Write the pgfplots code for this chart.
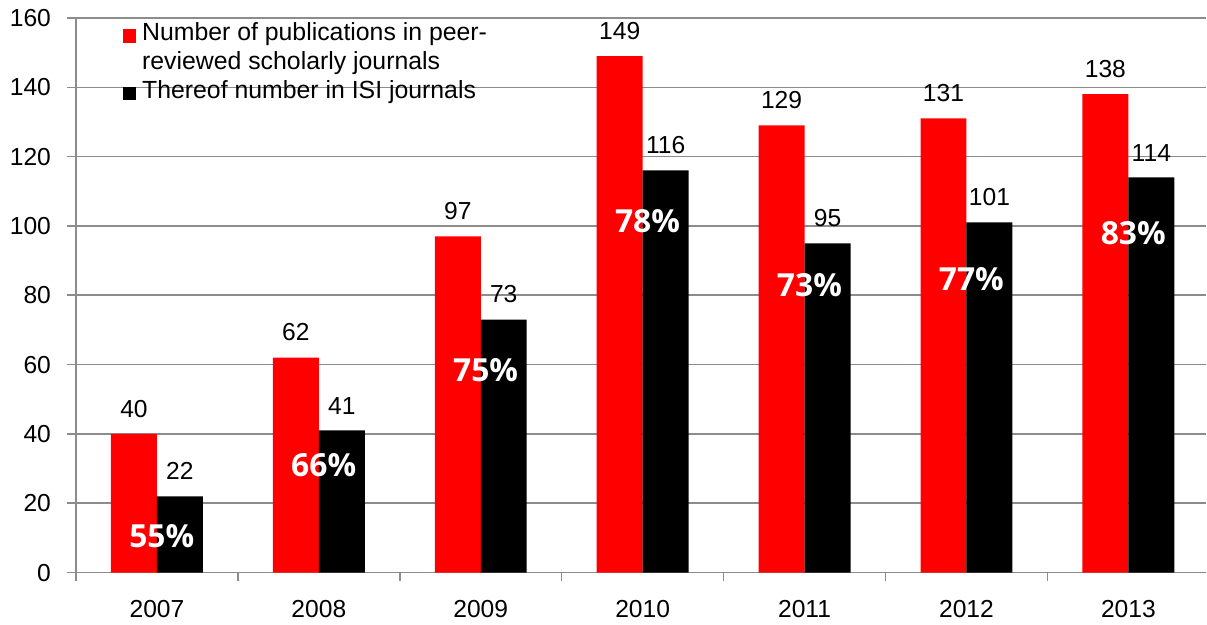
\documentclass[border=0pt]{standalone}
\usepackage{fontspec}
\setmainfont{Liberation Sans}
\newfontfamily\pctfont{Open Sans}
\usepackage{pgfplots}
\pgfplotsset{compat=1.18}
\definecolor{barred}{HTML}{FF0000}
\definecolor{gridgray}{HTML}{8C8C8C}

\begin{document}
\begin{tikzpicture}
\begin{axis}[
    name=ax,
    at={(0,0)},
    scale only axis,
    width=519.1pt,
    height=254.7pt,
    ybar=0pt,
    bar width=21.1pt,
    xmin=-0.5, xmax=6.481,
    ymin=0, ymax=160,
    ytick={0,20,...,160},
    xtick={0,...,6},
    xticklabels={2007,2008,2009,2010,2011,2012,2013},
    minor xtick={-0.5,0.5,...,5.5},
    axis x line*=bottom,
    axis y line*=left,
    axis line style={gridgray, line width=0.7pt},
    ymajorgrids,
    grid style={gridgray, line width=0.7pt},
    tick align=outside,
    major tick length=4pt,
    minor tick length=4pt,
    major x tick style={draw=none},
    minor x tick style={gridgray, line width=0.7pt},
    major y tick style={gridgray, line width=0.7pt},
    tick label style={font=\fontsize{11.3}{13}\selectfont},
    /pgf/number format/assume math mode=true,
    yticklabel style={xshift=-4pt},
    xticklabel style={yshift=-5pt},
    nodes near coords,
    nodes near coords style={font=\fontsize{11.3}{13}\selectfont, text=black, yshift=4pt},
    legend cell align=left,
    legend image code/.code={\fill[#1] (0pt,-3.8pt) rectangle (6pt,2.2pt);},
    legend style={at={(0.041,0.995)}, anchor=north west, draw=none, fill=none,
        font=\fontsize{11.4}{13}\selectfont, row sep=1.3pt, column sep=2.4pt, inner sep=0pt,
        nodes={inner sep=0.5pt, text height=8.5pt, text depth=2.5pt}},
]
\addplot[fill=barred, draw=none] coordinates {
    (0,40) (1,62) (2,97) (3,149) (4,129) (5,131) (6,138)
};
\addlegendentry{Number of publications in peer-}
\addlegendimage{empty legend}
\addlegendentry{reviewed scholarly journals}
\addplot[fill=black, draw=none] coordinates {
    (0,22) (1,41) (2,73) (3,116) (4,95) (5,101) (6,114)
};
\addlegendentry{Thereof number in ISI journals}

\begin{scope}[every node/.style={font=\pctfont\bfseries\fontsize{14.6}{16}\selectfont, text=white, inner sep=0pt}]
\node at (axis cs:0.03,10.4) {55\%};
\node at (axis cs:1.03,31.1) {66\%};
\node at (axis cs:2.03,58.5) {75\%};
\node at (axis cs:3.03,101.3) {78\%};
\node at (axis cs:4.03,83.0) {73\%};
\node at (axis cs:5.03,84.6) {77\%};
\node at (axis cs:6.03,97.8) {83\%};
\end{scope}
\end{axis}
\path ([shift={(-34.9pt,-20.7pt)}]ax.south west) rectangle ([shift={(0pt,8.26pt)}]ax.north east);
\end{tikzpicture}
\end{document}
